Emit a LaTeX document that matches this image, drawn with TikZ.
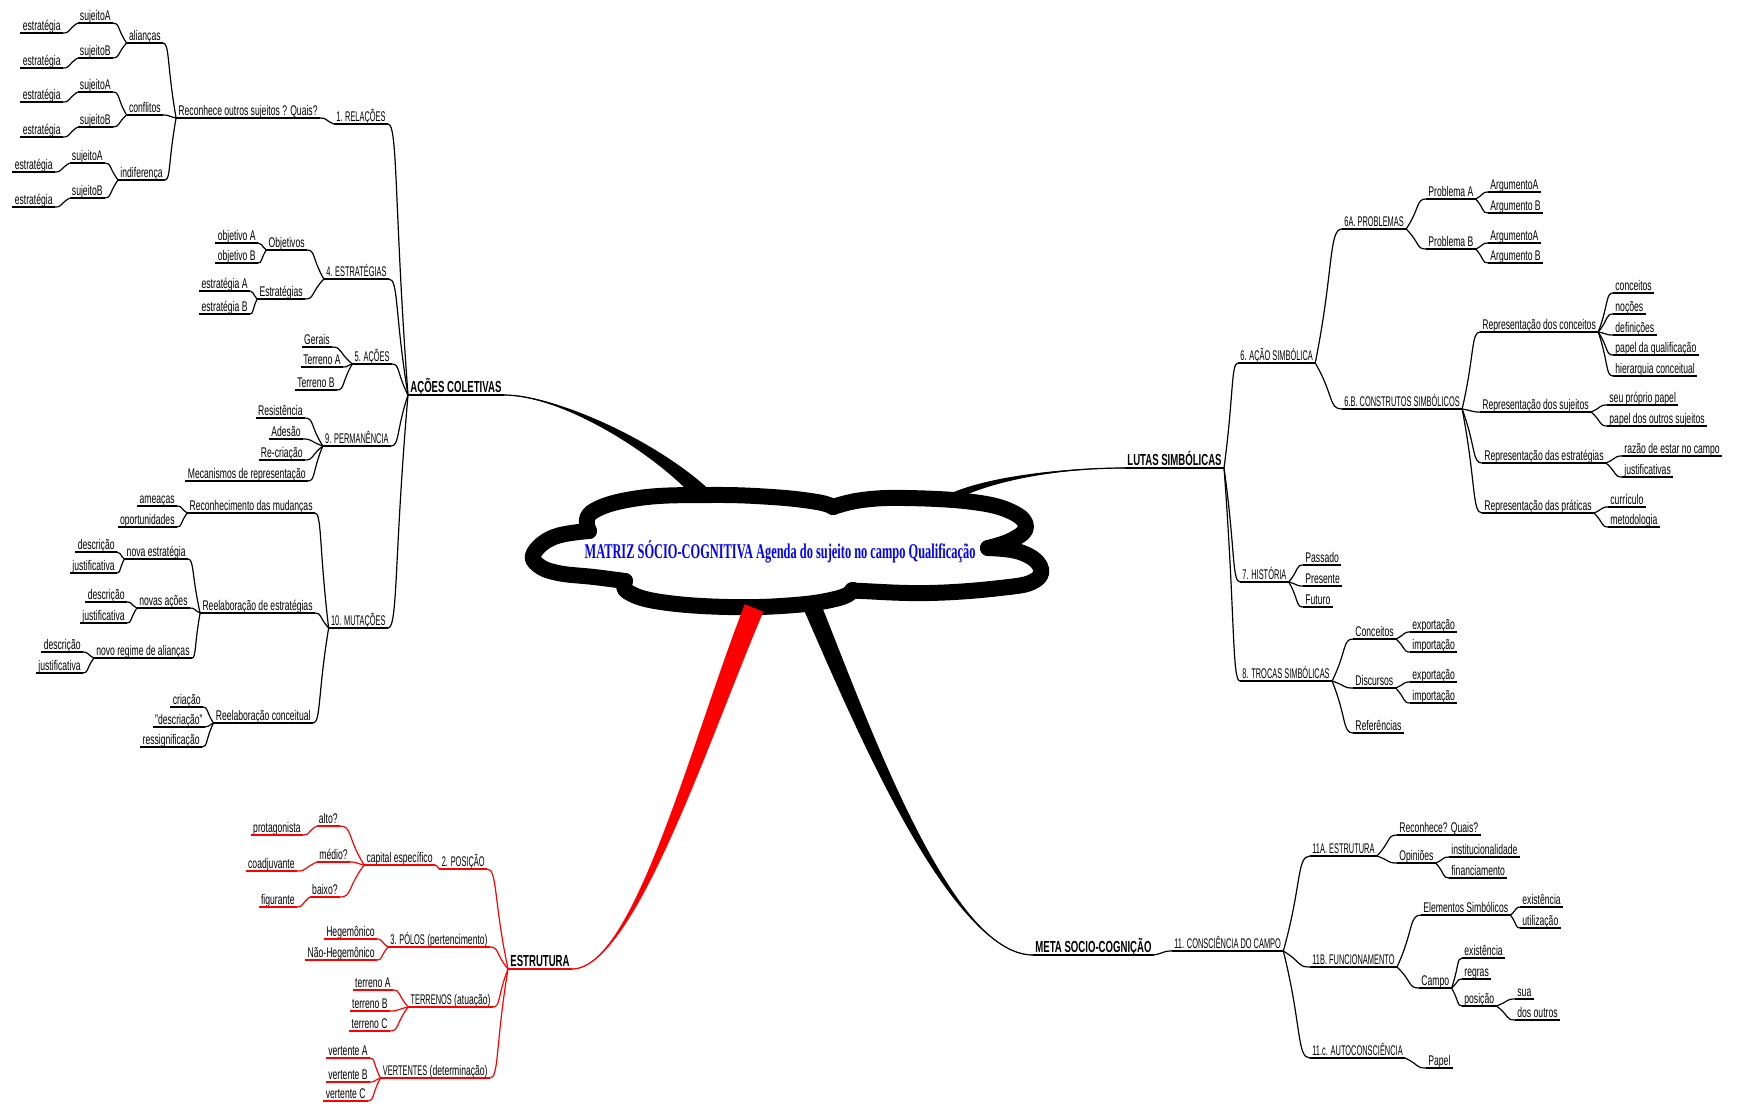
\documentclass[tikz,border=0pt]{standalone}
\usepackage{fontspec}
\setmainfont{Liberation Sans}[FakeStretch=0.615]
\newfontfamily\capsfont{Liberation Sans}[FakeStretch=0.53]
\newfontfamily\headfont{Liberation Sans}[FakeStretch=0.6]
\newfontfamily\titlefont{Liberation Serif}[FakeStretch=0.59]
\usetikzlibrary{calc}

\tikzset{
  lab/.style={inner xsep=1.2pt, inner ysep=1.3pt, outer sep=0pt, text depth=0pt,
              font=\fontsize{7}{8}\selectfont},
  capsl/.style={font=\fontsize{7}{8}\selectfont\capsfont},
  headl/.style={font=\fontsize{8}{9}\selectfont\headfont\bfseries},
  twigline/.style={line width=0.6pt},
  nb/.style={lab, append after command={(\tikzlastnode.south west) edge[twigline, draw=black] (\tikzlastnode.south east)}},
  nr/.style={lab, append after command={(\tikzlastnode.south west) edge[twigline, draw=red] (\tikzlastnode.south east)}},
  lft/.style={anchor=south east},
  rgt/.style={anchor=south west},
  cloudline/.style={line width=8pt, line cap=round, line join=round},
}

\begin{document}
\begin{tikzpicture}[x=0.5pt, y=-0.5pt]
\useasboundingbox (0,0) rectangle (1738,1103);

% ---------- central cloud ----------
\draw[cloudline] plot[smooth, tension=0.7] coordinates {(589,531) (592,512) (639,498) (710,495) (772,497) (817,502) (833,507)};
\draw[cloudline] plot[smooth, tension=0.7] coordinates {(833,507) (862,500) (906,498) (973,502) (1012,512) (1026,527) (1012,540) (988,548)};
\draw[cloudline] plot[smooth, tension=0.7] coordinates {(988,548) (1020,552) (1040,566) (1034,581) (1000,588) (929,593) (862,591) (853,590)};
\draw[cloudline] plot[smooth, tension=0.7] coordinates {(853,590) (839,598) (795,605) (728,607) (661,602) (628,592) (625,581)};
\draw[cloudline] plot[smooth, tension=0.7] coordinates {(625,581) (594,577) (558,573) (538,565) (534,553) (554,537) (589,531)};

\coordinate (cA) at (702,494);
\coordinate (cL) at (950,498);
\coordinate (cM) at (812,606);
\coordinate (cE) at (754,608);

% ---------- AÇÕES COLETIVAS ----------
\node[nb,headl,rgt] (ac) at (408,395) {AÇÕES COLETIVAS};
\node[nb,capsl,lft] (r1) at (388,124) {1. RELAÇÕES};
\node[nb,lft] (rq) at (320,118) {Reconhece outros sujeitos ? Quais?};
\node[nb,lft] (ali) at (163,43) {alianças};
\node[nb,lft] (con) at (163,115) {conflitos};
\node[nb,lft] (ind) at (165,180) {indiferença};
\node[nb,lft] (s1) at (113,23) {sujeitoA};
\node[nb,lft] (s2) at (113,58) {sujeitoB};
\node[nb,lft] (s3) at (113,92) {sujeitoA};
\node[nb,lft] (s4) at (113,127) {sujeitoB};
\node[nb,lft] (s5) at (105,163) {sujeitoA};
\node[nb,lft] (s6) at (105,198) {sujeitoB};
\node[nb,lft] (e1) at (63,33) {estratégia};
\node[nb,lft] (e2) at (63,68) {estratégia};
\node[nb,lft] (e3) at (63,102) {estratégia};
\node[nb,lft] (e4) at (63,137) {estratégia};
\node[nb,lft] (e5) at (55,172) {estratégia};
\node[nb,lft] (e6) at (55,207) {estratégia};

\node[nb,capsl,lft] (r4) at (389,279) {4. ESTRATÉGIAS};
\node[nb,lft] (obj) at (307,250) {Objetivos};
\node[nb,lft] (est) at (305,299) {Estratégias};
\node[nb,lft] (oa) at (258,243) {objetivo A};
\node[nb,lft] (ob) at (258,263) {objetivo B};
\node[nb,lft] (ea) at (250,291) {estratégia A};
\node[nb,lft] (eb) at (250,314) {estratégia B};

\node[nb,capsl,lft] (r5) at (392,364) {5. AÇÕES};
\node[nb,lft] (ger) at (332,347) {Gerais};
\node[nb,lft] (ta) at (343,367) {Terreno A};
\node[nb,lft] (tb) at (337,390) {Terreno B};

\node[nb,capsl,lft] (r9) at (391,446) {9. PERMANÊNCIA};
\node[nb,lft] (res) at (305,418) {Resistência};
\node[nb,lft] (ade) at (303,439) {Adesão};
\node[nb,lft] (rec) at (305,460) {Re-criação};
\node[nb,lft] (mec) at (308,481) {Mecanismos de representação};

\node[nb,capsl,lft] (r10) at (388,628) {10. MUTAÇÕES};
\node[nb,lft] (rm) at (315,513) {Reconhecimento das mudanças};
\node[nb,lft] (ame) at (177,506) {ameaças};
\node[nb,lft] (opo) at (177,527) {oportunidades};
\node[nb,lft] (rest) at (315,613) {Reelaboração de estratégias};
\node[nb,lft] (nes) at (188,559) {nova estratégia};
\node[nb,lft] (d1) at (117,552) {descrição};
\node[nb,lft] (j1) at (117,573) {justificativa};
\node[nb,lft] (nac) at (190,608) {novas ações};
\node[nb,lft] (d2) at (127,602) {descrição};
\node[nb,lft] (j2) at (127,623) {justificativa};
\node[nb,lft] (nra) at (192,658) {novo regime de alianças};
\node[nb,lft] (d3) at (83,652) {descrição};
\node[nb,lft] (j3) at (83,673) {justificativa};
\node[nb,lft] (rcon) at (313,723) {Reelaboração conceitual};
\node[nb,lft] (cri) at (203,707) {criação};
\node[nb,lft] (dcr) at (205,727) {"descriação"};
\node[nb,lft] (ress) at (202,747) {ressignificação};

% ---------- ESTRUTURA ----------
\node[nr,headl,rgt] (es) at (508,969) {ESTRUTURA};
\node[nr,capsl,lft] (p2) at (487,869) {2. POSIÇÃO};
\node[nr,lft] (cap) at (435,865) {capital específico};
\node[nr,lft] (alto) at (340,826) {alto?};
\node[nr,lft] (med) at (350,862) {médio?};
\node[nr,lft] (bai) at (340,897) {baixo?};
\node[nr,lft] (pro) at (303,835) {protagonista};
\node[nr,lft] (coa) at (297,871) {coadjuvante};
\node[nr,lft] (fig) at (297,907) {figurante};
\node[nr,lft] (p3) at (490,947) {{\capsfont 3. PÓLOS} (pertencimento)};
\node[nr,lft] (heg) at (377,939) {Hegemônico};
\node[nr,lft] (nheg) at (377,960) {Não-Hegemônico};
\node[nr,lft] (ter) at (493,1007) {{\capsfont TERRENOS} (atuação)};
\node[nr,lft] (tA) at (393,990) {terreno A};
\node[nr,lft] (tB) at (390,1011) {terreno B};
\node[nr,lft] (tC) at (390,1031) {terreno C};
\node[nr,lft] (ver) at (490,1078) {{\capsfont VERTENTES} (determinação)};
\node[nr,lft] (vA) at (370,1058) {vertente A};
\node[nr,lft] (vB) at (370,1082) {vertente B};
\node[nr,lft] (vC) at (368,1101) {vertente C};

% ---------- LUTAS SIMBÓLICAS ----------
\node[nb,headl,lft] (lu) at (1224,468) {LUTAS SIMBÓLICAS};
\node[nb,capsl,rgt] (a6) at (1238,363) {6. AÇÃO SIMBÓLICA};
\node[nb,capsl,rgt] (a6a) at (1342,229) {6A. PROBLEMAS};
\node[nb,rgt] (pA) at (1426,199) {Problema A};
\node[nb,rgt] (pB) at (1426,249) {Problema B};
\node[nb,rgt] (g1) at (1488,192) {ArgumentoA};
\node[nb,rgt] (g2) at (1488,213) {Argumento B};
\node[nb,rgt] (g3) at (1488,243) {ArgumentoA};
\node[nb,rgt] (g4) at (1488,263) {Argumento B};
\node[nb,capsl,rgt] (a6b) at (1342,409) {6.B. CONSTRUTOS SIMBÓLICOS};
\node[nb,rgt] (rc) at (1480,332) {Representação dos conceitos};
\node[nb,rgt] (c1) at (1613,293) {conceitos};
\node[nb,rgt] (c2) at (1613,314) {noções};
\node[nb,rgt] (c3) at (1613,335) {definições};
\node[nb,rgt] (c4) at (1613,355) {papel da qualificação};
\node[nb,rgt] (c5) at (1613,376) {hierarquia conceitual};
\node[nb,rgt] (rs) at (1480,412) {Representação dos sujeitos};
\node[nb,rgt] (sp1) at (1607,405) {seu próprio papel};
\node[nb,rgt] (sp2) at (1607,426) {papel dos outros sujeitos};
\node[nb,rgt] (re) at (1482,463) {Representação das estratégias};
\node[nb,rgt] (rz) at (1622,456) {razão de estar no campo};
\node[nb,rgt] (jf) at (1622,477) {justificativas};
\node[nb,rgt] (rp) at (1482,513) {Representação das práticas};
\node[nb,rgt] (cu) at (1608,507) {currículo};
\node[nb,rgt] (me) at (1608,527) {metodologia};
\node[nb,capsl,rgt] (h7) at (1240,582) {7. HISTÓRIA};
\node[nb,rgt] (pa) at (1303,565) {Passado};
\node[nb,rgt] (pr) at (1303,586) {Presente};
\node[nb,rgt] (fu) at (1303,607) {Futuro};
\node[nb,capsl,rgt] (t8) at (1240,681) {8. TROCAS SIMBÓLICAS};
\node[nb,rgt] (tc) at (1353,639) {Conceitos};
\node[nb,rgt] (x1) at (1410,632) {exportação};
\node[nb,rgt] (i1) at (1410,652) {importação};
\node[nb,rgt] (td) at (1353,688) {Discursos};
\node[nb,rgt] (x2) at (1410,682) {exportação};
\node[nb,rgt] (i2) at (1410,703) {importação};
\node[nb,rgt] (tr) at (1353,733) {Referências};

% ---------- META SOCIO-COGNIÇÃO ----------
\node[nb,headl,rgt] (mt) at (1033,955) {META SOCIO-COGNIÇÃO};
\node[nb,capsl,rgt] (m11) at (1172,951) {11. CONSCIÊNCIA DO CAMPO};
\node[nb,capsl,rgt] (m11a) at (1310,856) {11A. ESTRUTURA};
\node[nb,rgt] (rq2) at (1397,835) {Reconhece? Quais?};
\node[nb,rgt] (op) at (1397,863) {Opiniões};
\node[nb,rgt] (ins) at (1449,857) {institucionalidade};
\node[nb,rgt] (fin) at (1449,878) {financiamento};
\node[nb,capsl,rgt] (m11b) at (1310,967) {11B. FUNCIONAMENTO};
\node[nb,rgt] (el) at (1421,915) {Elementos Simbólicos};
\node[nb,rgt] (ex1) at (1520,907) {existência};
\node[nb,rgt] (ut) at (1520,928) {utilização};
\node[nb,rgt] (ca) at (1419,988) {Campo};
\node[nb,rgt] (ex2) at (1462,958) {existência};
\node[nb,rgt] (rg) at (1462,979) {regras};
\node[nb,rgt] (po) at (1462,1006) {posição};
\node[nb,rgt] (su) at (1515,999) {sua};
\node[nb,rgt] (do) at (1515,1020) {dos outros};
\node[nb,capsl,rgt] (m11c) at (1310,1058) {11.c. AUTOCONSCIÊNCIA};
\node[nb,rgt] (pap) at (1426,1068) {Papel};

% ---------- branch links: children on the left ----------
% each link leaves the child's underline horizontally, then runs
% almost straight into the parent's junction point
\foreach \ch/\pa in {r1/ac, r4/ac, r5/ac, r9/ac, r10/ac, rq/r1, ali/rq, con/rq, ind/rq,
    s1/ali, s2/ali, s3/con, s4/con, s5/ind, s6/ind, e1/s1, e2/s2, e3/s3, e4/s4, e5/s5, e6/s6,
    obj/r4, est/r4, oa/obj, ob/obj, ea/est, eb/est, ger/r5, ta/r5, tb/r5,
    res/r9, ade/r9, rec/r9, mec/r9, rm/r10, rest/r10, rcon/r10, ame/rm, opo/rm,
    nes/rest, nac/rest, nra/rest, d1/nes, j1/nes, d2/nac, j2/nac, d3/nra, j3/nra,
    cri/rcon, dcr/rcon, ress/rcon}
  \draw[twigline] (\ch.south east) .. controls ($(\ch.south east)!0.5!(\ch.south east -| \pa.south west)$)
     and ($(\ch.south east)!0.3!(\pa.south west)$) .. (\pa.south west);

\foreach \ch/\pa in {p2/es, p3/es, ter/es, ver/es, cap/p2, alto/cap, med/cap, bai/cap,
    pro/alto, coa/med, fig/bai, heg/p3, nheg/p3, tA/ter, tB/ter, tC/ter, vA/ver, vB/ver, vC/ver}
  \draw[twigline, red] (\ch.south east) .. controls ($(\ch.south east)!0.5!(\ch.south east -| \pa.south west)$)
     and ($(\ch.south east)!0.3!(\pa.south west)$) .. (\pa.south west);

% ---------- branch links: children on the right ----------
\foreach \ch/\pa in {a6/lu, h7/lu, t8/lu, a6a/a6, a6b/a6, pA/a6a, pB/a6a, g1/pA, g2/pA, g3/pB, g4/pB,
    rc/a6b, rs/a6b, re/a6b, rp/a6b, c1/rc, c2/rc, c3/rc, c4/rc, c5/rc, sp1/rs, sp2/rs,
    rz/re, jf/re, cu/rp, me/rp, pa/h7, pr/h7, fu/h7, tc/t8, td/t8, tr/t8,
    x1/tc, i1/tc, x2/td, i2/td, m11/mt, m11a/m11, m11b/m11, m11c/m11, rq2/m11a, op/m11a,
    ins/op, fin/op, el/m11b, ca/m11b, ex1/el, ut/el, ex2/ca, rg/ca, po/ca, su/po, do/po, pap/m11c}
  \draw[twigline] (\ch.south west) .. controls ($(\ch.south west)!0.5!(\ch.south west -| \pa.south east)$)
     and ($(\ch.south west)!0.3!(\pa.south east)$) .. (\pa.south east);

% ---------- tapered main branches ----------
\fill ($(ac.south east)+(0,0.3)$) .. controls ($(ac.south east)+(53,0)$) and (648.6,447.4) .. (696.3,499.7)
   -- (707.7,488.3) .. controls (655.4,440.6) and ($(ac.south east)+(53,0)$) .. ($(ac.south east)+(0,-0.3)$) -- cycle;
\draw[twigline] (ac.south east) .. controls ($(ac.south east)+(53,0)$) and (652,444) .. (cA);

\fill ($(lu.south west)+(0,0.3)$) .. controls ($(lu.south west)+(-62,0)$) and (991.1,480.1) .. (951.8,501.6)
   -- (948.2,494.4) .. controls (988.9,475.9) and ($(lu.south west)+(-62,0)$) .. ($(lu.south west)+(0,-0.3)$) -- cycle;
\draw[twigline] (lu.south west) .. controls ($(lu.south west)+(-62,0)$) and (990,478) .. (cL);

\fill ($(mt.south west)+(0,0.3)$) .. controls ($(mt.south west)+(-83,0)$) and (866.6,717.2) .. (820.3,602.5)
   -- (803.7,609.5) .. controls (853.4,722.8) and ($(mt.south west)+(-83,0)$) .. ($(mt.south west)+(0,-0.3)$) -- cycle;
\draw[twigline] (mt.south west) .. controls ($(mt.south west)+(-83,0)$) and (860,720) .. (cM);

\fill[red] ($(es.south east)+(0,0.3)$) .. controls ($(es.south east)+(62,0)$) and (707.4,743.0) .. (763.3,611.8)
   -- (744.8,604.2) .. controls (692.6,737.0) and ($(es.south east)+(62,0)$) .. ($(es.south east)+(0,-0.3)$) -- cycle;
\draw[twigline, red] (es.south east) .. controls ($(es.south east)+(62,0)$) and (700,740) .. (cE);

% ---------- title ----------
\node[font=\fontsize{10.5}{12}\selectfont\titlefont\bfseries, text=blue, inner sep=0pt] (title) at (780,552)
  {MATRIZ SÓCIO-COGNITIVA Agenda do sujeito no campo Qualificação};
\end{tikzpicture}
\end{document}
